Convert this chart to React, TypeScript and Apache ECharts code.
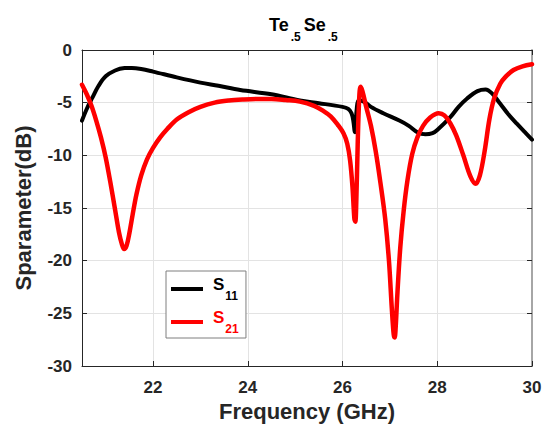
import React, { useEffect, useRef } from "react";
import * as echarts from "echarts";

const xTicks = [22, 24, 26, 28, 30];

const s11Freq = [20.5, 20.6, 20.71, 20.85, 21.0, 21.2, 21.4, 21.55, 21.75, 22.0, 22.5, 23.0, 23.38, 23.84, 24.5, 25.1, 25.5, 26.0, 26.12, 26.19, 26.23, 26.26, 26.3, 26.34, 26.45, 26.6, 26.86, 27.2, 27.4, 27.58, 27.75, 27.9, 28.0, 28.28, 28.45, 28.63, 28.85, 29.02, 29.15, 29.33, 29.5, 29.68, 29.85, 30.0];
const s11Val = [-6.7, -5.6, -4.6, -3.4, -2.5, -1.95, -1.72, -1.7, -1.8, -2.05, -2.6, -3.1, -3.4, -3.8, -4.2, -4.8, -5.05, -5.4, -5.6, -6.0, -6.8, -7.8, -5.6, -4.8, -4.9, -5.4, -6.0, -6.7, -7.2, -7.8, -8.0, -7.9, -7.6, -6.35, -5.4, -4.6, -3.9, -3.75, -4.1, -5.1, -6.1, -7.0, -7.8, -8.5];

const s21Freq = [20.5, 20.6, 20.7, 20.8, 20.9, 21.0, 21.1, 21.2, 21.28, 21.34, 21.39, 21.44, 21.5, 21.57, 21.65, 21.75, 21.87, 22.0, 22.15, 22.3, 22.5, 22.75, 23.0, 23.3, 23.6, 23.9, 24.2, 24.5, 24.8, 25.1, 25.4, 25.6, 25.75, 25.9, 26.02, 26.1, 26.16, 26.21, 26.25, 26.27, 26.29, 26.32, 26.35, 26.38, 26.42, 26.5, 26.6, 26.7, 26.8, 26.9, 26.98, 27.04, 27.08, 27.1, 27.12, 27.16, 27.22, 27.29, 27.37, 27.47, 27.58, 27.7, 27.85, 28.03, 28.15, 28.28, 28.4, 28.55, 28.7, 28.81, 28.9, 29.0, 29.1, 29.2, 29.33, 29.45, 29.61, 29.8, 30.0];
const s21Val = [-3.3, -4.2, -5.3, -6.7, -8.3, -10.2, -12.6, -15.2, -17.3, -18.4, -18.9, -18.6, -17.4, -15.6, -13.7, -11.9, -10.4, -9.3, -8.3, -7.5, -6.6, -5.9, -5.4, -5.0, -4.8, -4.7, -4.65, -4.65, -4.75, -4.9, -5.3, -5.8, -6.3, -7.1, -7.9, -8.9, -10.5, -13.0, -16.0, -16.3, -14.5, -9.0, -4.8, -3.5, -3.9, -5.4, -7.2, -9.6, -12.6, -16.0, -20.0, -24.5, -27.0, -27.3, -26.5, -23.0, -18.7, -15.3, -12.4, -9.9, -8.3, -7.2, -6.4, -6.0, -6.2, -7.0, -8.1, -10.0, -12.0, -12.7, -11.9, -9.6, -6.6, -4.6, -3.2, -2.5, -1.9, -1.55, -1.35];

const FONT = "Liberation Sans, Arial, Helvetica, sans-serif";
const DARK = "#262626";

export default function App() {
  const ref = useRef<HTMLDivElement>(null);
  useEffect(() => {
    if (!ref.current) return;
    const chart = echarts.init(ref.current, undefined, { renderer: "svg" });
    const s11 = s11Freq.map((f, i) => [f, s11Val[i]]);
    const s21 = s21Freq.map((f, i) => [f, s21Val[i]]);
    const tickStyle = { show: true, inside: true, length: 5, lineStyle: { color: DARK, width: 1 } };
    const sub = (color: string, lh: number) => ({
      m: { fontFamily: FONT, fontWeight: "bold", fontSize: 18, color, lineHeight: 18, verticalAlign: "top" },
      s: { fontFamily: FONT, fontWeight: "bold", fontSize: 12, color, lineHeight: 12, verticalAlign: "bottom", padding: [0, 3, 0, 2] },
      h: { fontSize: 1, lineHeight: lh, verticalAlign: "bottom", color },
    });
    chart.setOption({
      animation: false,
      backgroundColor: "#ffffff",
      title: {
        text: "{m|Te}{s|.5}{m|Se}{s|.5}{h| }",
        left: 269,
        top: 16,
        padding: 0,
        textStyle: { rich: sub("#000", 27) },
      },
      grid: { left: 82, right: 17, top: 50, bottom: 64, containLabel: false },
      legend: {
        show: true,
        orient: "vertical",
        left: 166,
        top: 271,
        padding: [5, 7, 3, 5],
        itemGap: 7,
        itemWidth: 32,
        itemHeight: 4,
        icon: "rect",
        backgroundColor: "#ffffff",
        borderColor: "#7f7f7f",
        borderWidth: 1,
        data: [{ name: "S11" }, { name: "S21" }],
        formatter: (name: string) => {
          const s = name.slice(1);
          return name === "S21" ? `{r|S}{rs|${s}}{h| }` : `{b|S}{bs|${s}}{h| }`;
        },
        textStyle: {
          rich: {
            b: { fontFamily: FONT, fontWeight: "bold", fontSize: 17, color: "#000", lineHeight: 17, verticalAlign: "top", padding: [0, 0, 0, 5] },
            bs: { fontFamily: FONT, fontWeight: "bold", fontSize: 12, color: "#000", lineHeight: 12, verticalAlign: "bottom", padding: [0, 0, 0, 1] },
            r: { fontFamily: FONT, fontWeight: "bold", fontSize: 17, color: "#ff0000", lineHeight: 17, verticalAlign: "top", padding: [0, 0, 0, 5] },
            rs: { fontFamily: FONT, fontWeight: "bold", fontSize: 12, color: "#ff0000", lineHeight: 12, verticalAlign: "bottom", padding: [0, 0, 0, 1] },
            h: { fontSize: 1, lineHeight: 26, verticalAlign: "bottom" },
          },
        },
      },
      xAxis: [
        {
          type: "value",
          min: 20.5,
          max: 30,
          position: "bottom",
          name: "Frequency (GHz)",
          nameLocation: "middle",
          nameGap: 31,
          nameTextStyle: { fontFamily: FONT, fontWeight: "bold", fontSize: 22, color: DARK },
          axisLine: { show: true, onZero: false, lineStyle: { color: DARK, width: 1 } },
          axisTick: { ...tickStyle, customValues: xTicks },
          axisLabel: { customValues: xTicks, fontFamily: FONT, fontWeight: "bold", fontSize: 17, color: DARK, margin: 13 },
          splitLine: { show: true, lineStyle: { color: "#e3e3e3", width: 1 } },
        },
        {
          type: "value",
          min: 20.5,
          max: 30,
          position: "top",
          axisLine: { show: true, onZero: false, lineStyle: { color: DARK, width: 1 } },
          axisTick: { ...tickStyle, customValues: xTicks },
          axisLabel: { show: false, customValues: xTicks },
          splitLine: { show: false },
        },
      ],
      yAxis: [
        {
          type: "value",
          min: -30,
          max: 0,
          interval: 5,
          position: "left",
          name: "Sparameter(dB)",
          nameLocation: "middle",
          nameGap: 48,
          nameTextStyle: { fontFamily: FONT, fontWeight: "bold", fontSize: 22, color: DARK },
          axisLine: { show: true, onZero: false, lineStyle: { color: DARK, width: 1 } },
          axisTick: tickStyle,
          axisLabel: { fontFamily: FONT, fontWeight: "bold", fontSize: 17, color: DARK, margin: 10 },
          splitLine: { show: true, lineStyle: { color: "#e3e3e3", width: 1 } },
        },
        {
          type: "value",
          min: -30,
          max: 0,
          interval: 5,
          position: "right",
          axisLine: { show: true, onZero: false, lineStyle: { color: "#a6a6a6", width: 2 } },
          axisTick: tickStyle,
          axisLabel: { show: false },
          splitLine: { show: false },
        },
      ],
      series: [
        {
          name: "S11",
          type: "line",
          data: s11,
          xAxisIndex: 0,
          yAxisIndex: 0,
          showSymbol: false,
          smooth: 0.35,
          color: "#000000",
          lineStyle: { color: "#000000", width: 4, cap: "round", join: "round" },
          z: 2,
        },
        {
          name: "S21",
          type: "line",
          data: s21,
          xAxisIndex: 0,
          yAxisIndex: 0,
          showSymbol: false,
          smooth: 0.35,
          color: "#ff0000",
          lineStyle: { color: "#ff0000", width: 4.5, cap: "round", join: "round" },
          z: 3,
        },
      ],
    });
    return () => chart.dispose();
  }, []);
  return <div ref={ref} style={{ position: "fixed", left: 0, top: 0, width: 549, height: 430 }} />;
}
